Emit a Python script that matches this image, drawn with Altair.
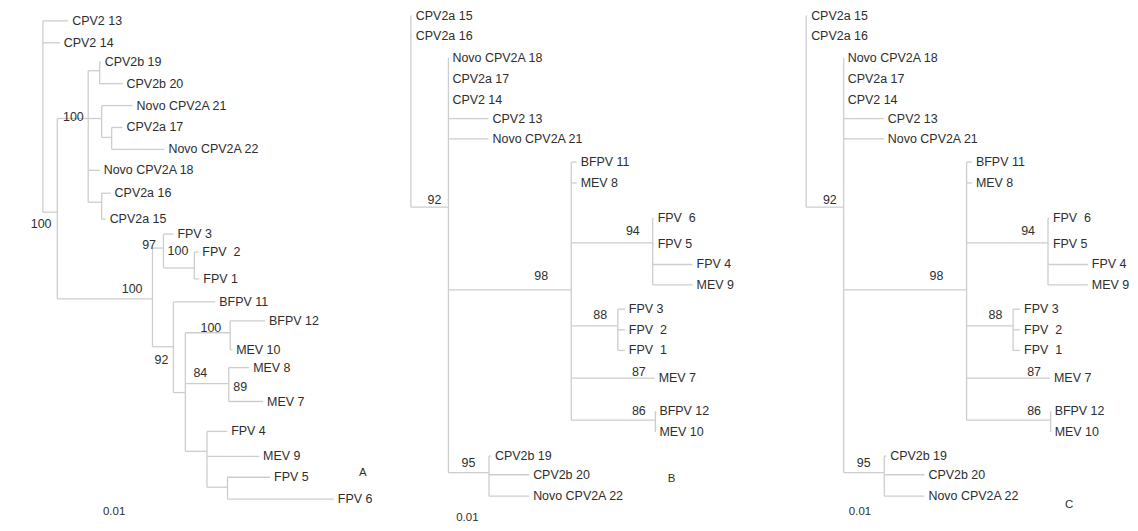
import altair as alt
import pandas as pd

# ---------------- data ----------------
# tree nodes: (name, parent, distance from root, row)
A_tree = [
    ("rootA", None, 0, None),
    ("CPV2 13", "rootA", 25.5, 20),
    ("CPV2 14", "rootA", 17, 42),
    ("a1", "rootA", 14.5, 212),
    ("a2", "a1", 45.5, 118),
    ("a3", "a2", 57, 70),
    ("CPV2b 19", "a3", 58, 61),
    ("CPV2b 20", "a3", 80, 83),
    ("a4", "a2", 59, 118),
    ("Novo CPV2A 21", "a4", 90, 105),
    ("a5", "a4", 69, 137),
    ("CPV2a 17", "a5", 80, 127),
    ("Novo CPV2A 22", "a5", 122, 149),
    ("Novo CPV2A 18", "a2", 57, 170),
    ("a6", "a2", 59, 202),
    ("CPV2a 16", "a6", 68, 193),
    ("CPV2a 15", "a6", 63, 219),
    ("a7", "a1", 110, 299),
    ("a8", "a7", 121, 248),
    ("FPV 3", "a8", 131, 234),
    ("a9", "a8", 152, 268),
    ("FPV  2", "a9", 156, 252),
    ("FPV 1", "a9", 157, 279),
    ("a10", "a7", 131, 347),
    ("BFPV 11", "a10", 173, 302),
    ("a11", "a10", 143, 393),
    ("a12", "a11", 188, 333),
    ("BFPV 12", "a12", 223, 321),
    ("MEV 10", "a12", 190, 350),
    ("a13", "a11", 186.5, 384),
    ("MEV 8", "a13", 207, 368),
    ("MEV 7", "a13", 221, 402),
    ("a14", "a11", 164.7, 452),
    ("FPV 4", "a14", 185, 432),
    ("MEV 9", "a14", 217, 457),
    ("a15", "a14", 185.3, 488),
    ("FPV 5", "a15", 228, 478),
    ("FPV 6", "a15", 292, 500),
]

B_tree = [
    ("rootB", None, 0, None),
    ("CPV2a 15", "rootB", 1, 15),
    ("CPV2a 16", "rootB", 1, 35),
    ("b1", "rootB", 37.7, 207),
    ("Novo CPV2A 18", "b1", 37.7, 57),
    ("CPV2a 17", "b1", 37.7, 78),
    ("CPV2 14", "b1", 37.7, 99),
    ("CPV2 13", "b1", 78, 118),
    ("Novo CPV2A 21", "b1", 78, 138.5),
    ("b2", "b1", 161, 290),
    ("BFPV 11", "b2", 166.4, 161.7),
    ("MEV 8", "b2", 166.4, 182.7),
    ("b3", "b2", 242.7, 242.7),
    ("FPV  6", "b3", 243.7, 218.3),
    ("FPV 5", "b3", 243.7, 244),
    ("FPV 4", "b3", 282.7, 264.5),
    ("MEV 9", "b3", 282.7, 285),
    ("b4", "b2", 207.7, 326),
    ("FPV 3", "b4", 214.7, 309.3),
    ("FPV  2", "b4", 214.7, 330),
    ("FPV  1", "b4", 214.7, 350.7),
    ("MEV 7", "b2", 244.7, 378.5),
    ("b5", "b2", 245.4, 420.7),
    ("BFPV 12", "b5", 245.4, 411.7),
    ("MEV 10", "b5", 245.4, 432.7),
    ("b6", "b1", 78.4, 473.3),
    ("CPV2b 19", "b6", 80.4, 456.7),
    ("CPV2b 20", "b6", 118.7, 475.5),
    ("Novo CPV2A 22", "b6", 118.7, 497),
]

# bootstrap values: (value, distance of label's right end, row)
A_boot = [(100, 8.7, 224), (100, 41, 116), (100, 100, 289), (97, 113.5, 245),
          (100, 146, 251), (92, 126, 360), (100, 179, 328), (84, 165, 373),
          (89, 205, 387)]
B_boot = [(92, 30.7, 199.3), (98, 137.7, 275.7), (94, 229.7, 230.7),
          (88, 197, 315), (87, 235.7, 372.7), (86, 235.7, 411.7),
          (95, 64.7, 463.3)]

panel_letters = ["A", "B", "C"]
panel_letter_pos = [(321, 474), (261.7, 480), (264, 506)]
scale_label = "0.01"
scale_label_pos = [(71.5, 513), (56.7, 519.3), (54, 513.3)]

# ---------------- layout ----------------
PANEL_ROOT_X = [43, 412.3, 809]
W, H = 1122, 505
FONT = "Liberation Sans"
FS = 12.5
TEXT_COLOR = "#2e2e2e"
LINE_COLOR = "#cdcdcd"

panels = [("A", A_tree, A_boot), ("B", B_tree, B_boot), ("C", B_tree, B_boot)]

segs, leaves, boots, notes = [], [], [], []
for i, (pname, tree, boot) in enumerate(panels):
    x0 = PANEL_ROOT_X[i]
    pos = {n: (x0 + d, r) for n, p, d, r in tree}
    parents = {n: p for n, p, d, r in tree}
    children = {}
    for n, p, d, r in tree:
        if p is not None:
            children.setdefault(p, []).append(n)
    for n, p, d, r in tree:
        if p is not None:
            px = pos[p][0]
            if abs(pos[n][0] - px) > 0.1:
                segs.append(dict(x=px, x2=pos[n][0], y=r, y2=r))
        if n in children:
            ys = [pos[c][1] for c in children[n]]
            segs.append(dict(x=pos[n][0], x2=pos[n][0], y=min(ys), y2=max(ys)))
        else:
            leaves.append(dict(x=pos[n][0], y=r, label=n.replace("  ", "\u00a0\u00a0")))
    for v, d, r in boot:
        boots.append(dict(x=x0 + d, y=r, label=str(v)))
    lx, ly = panel_letter_pos[i]
    notes.append(dict(x=x0 + lx, y=ly, label=panel_letters[i]))
    sx, sy = scale_label_pos[i]
    notes.append(dict(x=x0 + sx, y=sy, label=scale_label))

seg_df = pd.DataFrame(segs)
leaf_df = pd.DataFrame(leaves)
boot_df = pd.DataFrame(boots)
note_df = pd.DataFrame(notes)

xs = alt.Scale(domain=[8, 8 + W])
ys = alt.Scale(domain=[8, 8 + H], reverse=True)

lines = alt.Chart(seg_df).mark_rule(color=LINE_COLOR, strokeWidth=1.3).encode(
    x=alt.X("x:Q", scale=xs, axis=None),
    x2="x2:Q",
    y=alt.Y("y:Q", scale=ys, axis=None),
    y2="y2:Q",
)

leaf_text = alt.Chart(leaf_df).mark_text(
    align="left", baseline="middle", dx=4, font=FONT, fontSize=FS, color=TEXT_COLOR
).encode(x=alt.X("x:Q", scale=xs, axis=None), y=alt.Y("y:Q", scale=ys, axis=None), text="label:N")

boot_text = alt.Chart(boot_df).mark_text(
    align="right", baseline="middle", font=FONT, fontSize=FS, color=TEXT_COLOR
).encode(x=alt.X("x:Q", scale=xs, axis=None), y=alt.Y("y:Q", scale=ys, axis=None), text="label:N")

note_text = alt.Chart(note_df).mark_text(
    align="center", baseline="middle", font=FONT, fontSize=FS - 1, color=TEXT_COLOR
).encode(x=alt.X("x:Q", scale=xs, axis=None), y=alt.Y("y:Q", scale=ys, axis=None), text="label:N")

chart = alt.layer(lines, leaf_text, boot_text, note_text).properties(
    width=W, height=H, padding=0, background="white"
).configure_view(stroke=None)

chart.save("out.html", embed_options={"renderer": "svg", "actions": False})
